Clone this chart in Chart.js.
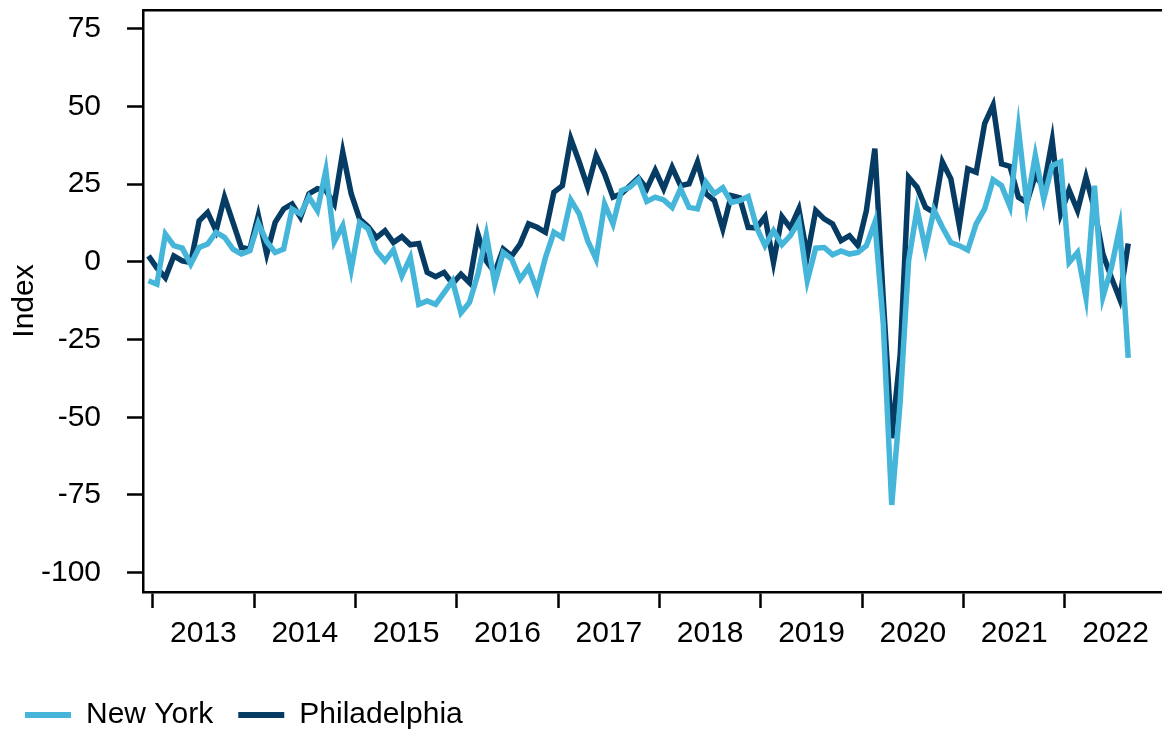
<!DOCTYPE html>
<html>
<head>
<meta charset="utf-8">
<script src="https://cdn.jsdelivr.net/npm/chart.js@4.4.0/dist/chart.umd.min.js"></script>
<style>
  html, body { margin: 0; padding: 0; background: #fff; }
</style>
</head>
<body>
<canvas id="chart" width="1162" height="731"></canvas>
<script>
// ----------------- DATA -----------------
// monthly index, first point = Dec 2012, last = Aug 2022
const newYork = [
  -6.1, -7.2, 8.9, 5.2, 4.4, -0.8, 4.6, 5.7, 9.5, 7.9,
  4.1, 2.5, 3.6, 12.4, 6.5, 3.0, 4.1, 17.0, 15.4, 20.8,
  16.5, 29.4, 6.5, 11.6, -2.4, 12.7, 10.6, 3.5, 0.3, 3.8,
  -4.5, 1.4, -13.7, -12.6, -13.7, -9.9, -6.1, -16.4, -13.1, -4.0,
  8.7, -7.0, 3.0, 0.9, -5.6, -1.8, -9.1, 1.4, 9.5, 7.8,
  19.9, 15.4, 6.8, 0.9, 18.6, 12.2, 22.9, 24.0, 26.5, 19.4,
  20.8, 19.9, 17.5, 23.5, 17.5, 17.0, 25.6, 21.9, 23.8, 19.1,
  19.7, 21.0, 11.1, 5.2, 10.0, 5.5, 8.4, 13.0, -6.1, 4.4,
  4.6, 2.3, 3.5, 2.5, 3.0, 5.2, 12.7, -20.0, -78.2, -45.0,
  0.3, 17.0, 4.1, 16.7, 11.1, 6.2, 5.2, 3.8, 12.2, 17.0,
  26.4, 24.5, 17.8, 42.8, 18.6, 34.2, 20.2, 31.0, 32.1, -0.2,
  3.0, -11.5, 24.5, -11.3, -2.0, 11.1, -30.9
];
const philadelphia = [
  1.9, -2.0, -5.1, 1.9, 0.3, -0.2, 13.2, 15.9, 10.0, 20.8,
  12.7, 4.6, 4.1, 14.9, 2.5, 12.7, 17.0, 18.6, 14.3, 21.9,
  23.5, 22.9, 18.6, 35.3, 21.9, 13.8, 11.3, 7.8, 10.0, 6.2,
  8.1, 5.5, 5.9, -3.4, -4.8, -3.4, -7.0, -4.0, -6.7, 8.9,
  0.3, -3.4, 4.1, 1.9, 5.7, 12.2, 11.1, 9.5, 22.4, 24.5,
  39.6, 32.1, 24.0, 34.2, 28.3, 20.8, 21.9, 24.5, 27.0, 23.5,
  29.4, 23.5, 30.4, 24.5, 25.1, 32.1, 21.9, 19.7, 10.6, 21.3,
  20.6, 11.1, 10.9, 14.5, -0.2, 14.5, 10.9, 17.0, 1.9, 16.5,
  13.8, 12.2, 6.8, 8.4, 5.2, 16.5, 36.4, -12.0, -56.7, -30.0,
  27.2, 24.0, 17.5, 15.9, 32.1, 26.7, 11.6, 29.9, 28.8, 44.5,
  50.4, 31.5, 30.7, 20.8, 19.1, 27.8, 24.0, 39.1, 15.4, 23.1,
  16.5, 27.2, 17.0, 2.5, -5.0, -12.0, 5.9
];
const yearLabels = ["2013", "2014", "2015", "2016", "2017", "2018", "2019", "2020", "2021", "2022"];
const yTickValues = [-100, -75, -50, -25, 0, 25, 50, 75];

// ----------------- STYLE -----------------
const NY_COLOR = "#45b6da";
const PHL_COLOR = "#063b64";
const FONT = { family: "'Liberation Sans', Arial, sans-serif", size: 30 };

Chart.defaults.font.family = FONT.family;
Chart.defaults.color = "#000";

// x value = months since Dec 2012; a year boundary sits half a month before January
const yearTickValues = yearLabels.map((_, k) => 12 * k + 0.5);
const toPoints = arr => arr.map((v, i) => ({ x: i, y: v }));

// ----------------- CHART -----------------
new Chart(document.getElementById("chart"), {
  type: "line",
  data: {
    datasets: [
      { label: "New York", data: toPoints(newYork), borderColor: NY_COLOR, backgroundColor: NY_COLOR, borderWidth: 5.5 },
      { label: "Philadelphia", data: toPoints(philadelphia), borderColor: PHL_COLOR, backgroundColor: PHL_COLOR, borderWidth: 5.5 }
    ]
  },
  options: {
    responsive: false,
    animation: false,
    devicePixelRatio: 1,
    layout: { padding: { top: 10, right: 0, bottom: -9, left: 0 } },
    elements: {
      point: { radius: 0 },
      line: { tension: 0 }
    },
    plugins: {
      tooltip: { enabled: false },
      legend: {
        position: "bottom",
        align: "start",
        labels: {
          boxWidth: 46,
          boxHeight: 6,
          padding: 25,
          font: FONT,
          color: "#000",
          generateLabels: chart => chart.data.datasets.map((d, i) => ({
            text: d.label,
            fillStyle: d.borderColor,
            strokeStyle: d.borderColor,
            lineWidth: 0,
            hidden: false,
            datasetIndex: i,
            fontColor: "#000"
          }))
        }
      }
    },
    scales: {
      x: {
        type: "linear",
        min: -0.65,
        max: 120,
        afterFit: s => { s.height = 83; },
        afterBuildTicks: s => { s.ticks = yearTickValues.map(v => ({ value: v })); },
        grid: { drawOnChartArea: false, tickLength: 16, tickWidth: 2.5, tickColor: "#000" },
        border: { color: "#000", width: 2.5 },
        ticks: {
          font: FONT,
          color: "#000",
          padding: 8,
          labelOffset: 50.7,
          maxRotation: 0,
          autoSkip: false,
          callback: (v, i) => yearLabels[i]
        }
      },
      xTop: {
        type: "linear",
        position: "top",
        min: -0.65,
        max: 120,
        afterFit: s => { s.height = 0; },
        grid: { display: false, drawTicks: false },
        border: { color: "#000", width: 2.5 },
        ticks: { display: false }
      },
      y: {
        min: -106.2,
        max: 81,
        afterFit: s => { s.width = 143; s.paddingTop = 0; s.paddingBottom = 0; },
        afterBuildTicks: s => { s.ticks = yTickValues.map(v => ({ value: v })); },
        grid: { drawOnChartArea: false, tickLength: 16, tickWidth: 2.5, tickColor: "#000" },
        border: { color: "#000", width: 2.5 },
        ticks: { font: FONT, color: "#000", padding: 26 },
        title: { display: true, text: "Index", font: FONT, color: "#000", padding: { top: 7, bottom: 0 } }
      }
    }
  }
});
</script>
</body>
</html>
